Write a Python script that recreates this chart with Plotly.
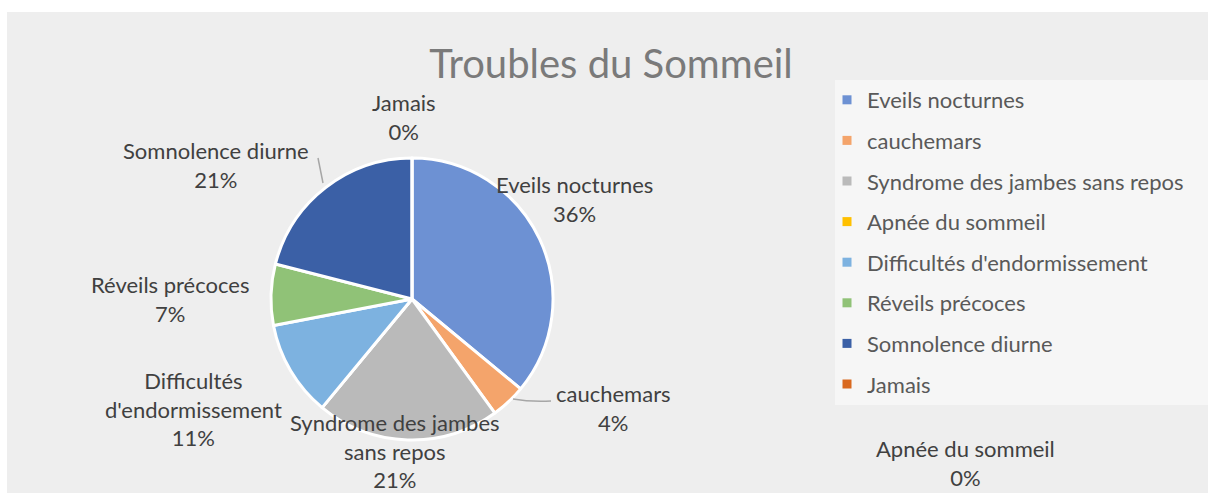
import plotly.graph_objects as go

# ---- data ----
labels = ["Eveils nocturnes", "cauchemars", "Syndrome des jambes sans repos",
          "Apnée du sommeil", "Difficultés d'endormissement", "Réveils précoces",
          "Somnolence diurne", "Jamais"]
values = [36, 4, 21, 0, 11, 7, 21, 0]
colors = ["#6d91d3", "#f4a46b", "#bababa", "#ffc000", "#7db2e0", "#90c277",
          "#3b60a6", "#d9691f"]
title_text = "Troubles du Sommeil"

# wrapped display labels for the data labels
wrapped = {
    "Syndrome des jambes sans repos": "Syndrome des jambes<br>sans repos",
    "Difficultés d'endormissement": "Difficultés<br>d'endormissement",
}

W, H = 1208, 493
FONT = "Lato"
TXT = "#404040"

fig = go.Figure()

fig.add_trace(go.Pie(
    labels=labels, values=values, sort=False, direction="clockwise", rotation=0,
    marker=dict(colors=colors, line=dict(color="white", width=3)),
    textinfo="none", hoverinfo="label+percent", showlegend=False,
    domain=dict(x=[271 / W, 553 / W], y=[1 - 440 / H, 1 - 158 / H]),
))

# legend entries (one group each so spacing can be set)
for i, (lab, col) in enumerate(zip(labels, colors)):
    fig.add_trace(go.Scatter(
        x=[None], y=[None], mode="markers", name=lab, legendgroup=f"g{i}",
        marker=dict(symbol="square", size=9, color=col), showlegend=True,
    ))

# data-label placement (pixel centres of the label blocks)
label_pos = {
    "Eveils nocturnes": (574, 199),
    "cauchemars": (613, 408),
    "Syndrome des jambes sans repos": (395, 451),
    "Apnée du sommeil": (965, 463),
    "Difficultés d'endormissement": (193, 409),
    "Réveils précoces": (170, 299),
    "Somnolence diurne": (216, 165),
    "Jamais": (404, 117),
}
total = sum(values)
for lab, v in zip(labels, values):
    px, py = label_pos[lab]
    pct = round(100 * v / total)
    fig.add_annotation(
        x=px / W, y=1 - py / H, xref="paper", yref="paper",
        text=f"{wrapped.get(lab, lab)}<br>{pct}%", showarrow=False,
        font=dict(family=FONT, size=22, color=TXT), align="center",
        xanchor="center", yanchor="middle",
    )

shapes = [
    # chart area background
    dict(type="rect", xref="paper", yref="paper", x0=7 / W, x1=1, y0=0, y1=1 - 12 / H,
         fillcolor="#eeeeee", line=dict(width=0), layer="below"),
    # legend box
    dict(type="rect", xref="paper", yref="paper", x0=835 / W, x1=1, y0=1 - 405 / H,
         y1=1 - 80 / H, fillcolor="#f6f6f6", line=dict(width=0), layer="below"),
    # leader lines
    dict(type="line", xref="paper", yref="paper", x0=318 / W, y0=1 - 158 / H,
         x1=323 / W, y1=1 - 183 / H, line=dict(color="#a6a6a6", width=1.5)),
    dict(type="path", xref="paper", yref="paper",
         path=f"M {513/W} {1-399/H} Q {530/W} {1-402/H} {551/W} {1-401/H}",
         line=dict(color="#a6a6a6", width=1.5)),
]

fig.update_layout(
    width=W, height=H, margin=dict(l=0, r=0, t=0, b=0),
    paper_bgcolor="white", plot_bgcolor="rgba(0,0,0,0)",
    title=dict(text=title_text, x=611 / W, xanchor="center", y=1 - 64 / H,
               yanchor="middle", font=dict(family=FONT, size=40, color="#7a7a7a")),
    xaxis=dict(visible=False), yaxis=dict(visible=False),
    legend=dict(x=827 / W, y=1 - 79 / H, xanchor="left", yanchor="top",
                bgcolor="rgba(0,0,0,0)", tracegroupgap=9,
                font=dict(family=FONT, size=22, color="#595959")),
    shapes=shapes,
)

fig.write_html("out.html", config={"displayModeBar": False},
               post_script="document.body.style.margin='0';document.body.style.overflow='hidden';")
